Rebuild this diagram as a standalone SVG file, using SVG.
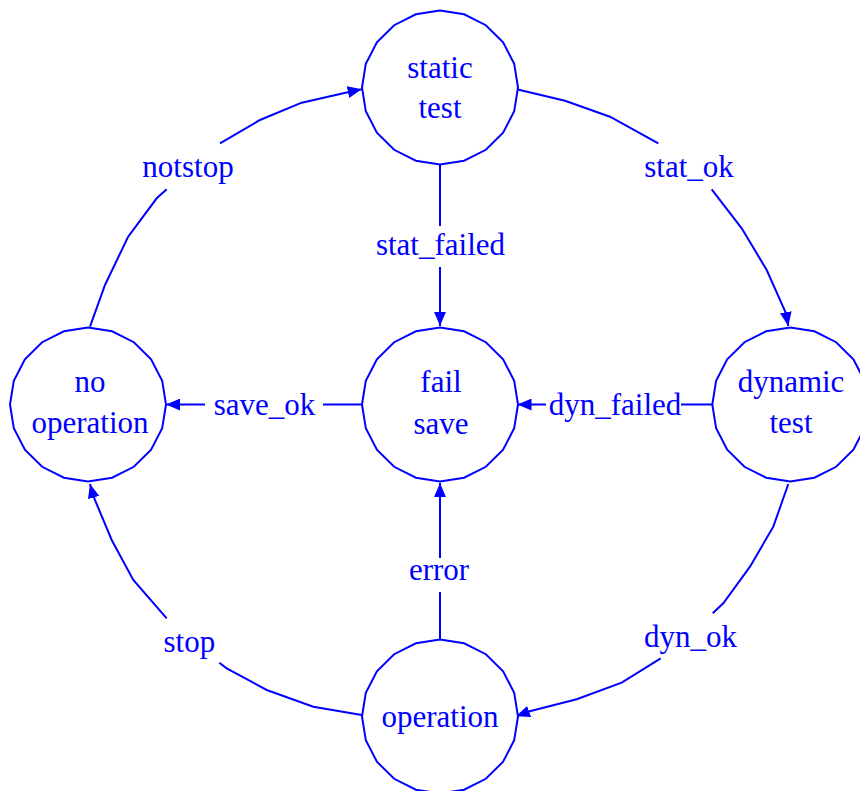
<svg xmlns="http://www.w3.org/2000/svg" width="860" height="791" viewBox="0 0 860 791">
<style>
  .node polygon, .ring { fill: #ffffff; stroke: #0000ff; stroke-width: 2; }
  text { font-family: 'Liberation Serif', 'Times New Roman', Times, 'DejaVu Serif', serif; font-size: 31px; fill: #0000ff; text-anchor: middle; }
  .edge { fill: none; stroke: #0000ff; stroke-width: 2; }
</style>
<defs>
  <marker id="arrow" markerUnits="userSpaceOnUse" markerWidth="14" markerHeight="12" viewBox="0 0 13 11" refX="13" refY="5.5" orient="auto">
    <path d="M0,0 L13,5.5 L0,11 Z" fill="#0000ff"/>
  </marker>
  <polygon id="ring" class="ring" points="78,0 74.18,23.79 63.1,45.26 45.85,62.29 24.1,73.23 0,77 -24.1,73.23 -45.85,62.29 -63.1,45.26 -74.18,23.79 -78,0 -74.18,-23.79 -63.1,-45.26 -45.85,-62.29 -24.1,-73.23 0,-77 24.1,-73.23 45.85,-62.29 63.1,-45.26 74.18,-23.79"/>
</defs>
<rect width="860" height="791" fill="#ffffff"/>

<g id="connectors" font-family="Liberation Serif, serif">
  <polyline class="edge" points="90,326.7 105,285 128,237 156.7,198.3 166.7,189.3"/>
  <polyline class="edge" points="220,143.3 260,120 301.7,102.7 350,91.7 361.7,89.3" marker-end="url(#arrow)"/>
  <text x="188" y="177">notstop</text>
  <polyline class="edge" points="516.7,89.3 565,100.7 610,116.7 658.3,143.3"/>
  <polyline class="edge" points="711.7,189.3 741.7,228.3 766.7,270 786,313.3 788.3,326" marker-end="url(#arrow)"/>
  <text x="689" y="177">stat_ok</text>
  <polyline class="edge" points="440,165 440,226"/>
  <polyline class="edge" points="440,267 440,326" marker-end="url(#arrow)"/>
  <text x="440.5" y="255">stat_failed</text>
  <polyline class="edge" points="361.7,404.5 323,404.5"/>
  <polyline class="edge" points="205,404.5 166,404.5" marker-end="url(#arrow)"/>
  <text x="264.5" y="415">save_ok</text>
  <polyline class="edge" points="712,404.5 681,404.5"/>
  <polyline class="edge" points="546,404.5 517.5,404.5" marker-end="url(#arrow)"/>
  <text x="615" y="415">dyn_failed</text>
  <polyline class="edge" points="788.3,484 773.3,526.7 750,566.7 723.3,603.3 712.7,613.3"/>
  <polyline class="edge" points="660.7,658.3 621.7,682.7 576.7,699.3 530.7,711 516,716.3" marker-end="url(#arrow)"/>
  <text x="690.5" y="647">dyn_ok</text>
  <polyline class="edge" points="361.7,715 313.3,706.7 266.7,690 226.7,668.3 219.3,662.7"/>
  <polyline class="edge" points="166.7,618.3 133.3,580 111.7,540 93.3,496 90,484" marker-end="url(#arrow)"/>
  <text x="189.3" y="652">stop</text>
  <polyline class="edge" points="440,639 440,592"/>
  <polyline class="edge" points="440,558 440,483" marker-end="url(#arrow)"/>
  <text x="439" y="580">error</text>
</g>

<g id="static_test" class="node">
  <use href="#ring" x="440" y="87.5"/>
  <text x="440" y="78.3">static</text>
  <text x="440" y="118.3">test</text>
</g>
<g id="no_operation" class="node">
  <use href="#ring" x="88" y="404.5"/>
  <text x="90" y="391.7">no</text>
  <text x="90" y="433.3">operation</text>
</g>
<g id="fail_save" class="node">
  <use href="#ring" x="440" y="404.5"/>
  <text x="441" y="392.3">fail</text>
  <text x="441" y="434">save</text>
</g>
<g id="dynamic_test" class="node">
  <use href="#ring" x="790.3" y="404.5"/>
  <text x="791" y="391.7">dynamic</text>
  <text x="791" y="433">test</text>
</g>
<g id="operation" class="node">
  <use href="#ring" x="440" y="716.5"/>
  <text x="440" y="727.3">operation</text>
</g>
</svg>
